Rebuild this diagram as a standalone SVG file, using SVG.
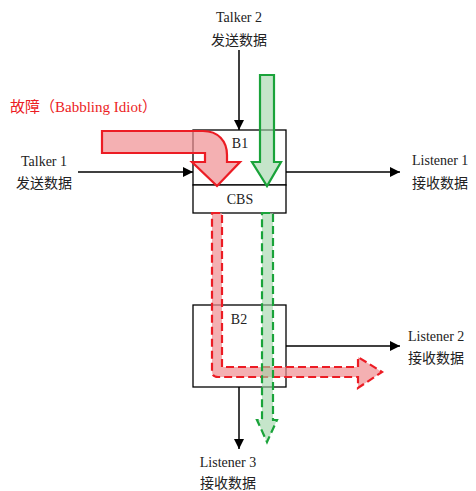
<svg xmlns="http://www.w3.org/2000/svg" width="476" height="491" viewBox="0 0 476 491">
<defs>
<marker id="ah" markerWidth="10" markerHeight="10" refX="10" refY="5" orient="auto" markerUnits="userSpaceOnUse"><path d="M0,0 L10,5 L0,10 Z" fill="#000"/></marker>
<style>
.lat{font-family:"Liberation Serif","Noto Sans CJK SC",serif;font-size:14px;fill:#222}
.cjk{font-family:"Noto Sans CJK SC","Liberation Serif",sans-serif;font-size:14px;fill:#222}
.box{fill:#fff;stroke:#000;stroke-width:1.3}
.ln{stroke:#000;stroke-width:1.5;fill:none;marker-end:url(#ah)}
.red{fill:#f08f92;fill-opacity:0.7;stroke:#ec1c24;stroke-width:2.2}
.grn{fill:#9fd4a6;fill-opacity:0.6;stroke:#1aa33a;stroke-width:2.2}
.dash{stroke-dasharray:8,4}
.fault{font-size:15px;fill:#ec1c24}
</style>
</defs>
<g id="b1"><rect class="box" x="193" y="130" width="93" height="55"/><text class="lat" x="240" y="148" text-anchor="middle">B1</text></g>
<g id="cbs"><rect class="box" x="193" y="185" width="93" height="28"/><text class="lat" x="240" y="204" text-anchor="middle">CBS</text></g>
<g id="b2"><rect class="box" x="193" y="305" width="93" height="82"/><text class="lat" x="239" y="324" text-anchor="middle">B2</text></g>
<g id="connectors">
<path class="ln" d="M239,50 V130"/>
<path class="ln" d="M78,172 H193"/>
<path class="ln" d="M286,172 H400"/>
<path class="ln" d="M286,346 H400"/>
<path class="ln" d="M239,387 V449"/>
</g>
<g id="fault-arrow"><path class="red" d="M102,131 L203,131 C218,131 227,141 227,155 L227,162 L240,162 L217,186 L192,162 L205,162 L205,153 L102,153 Z"/></g>
<g id="talker2-arrow"><path class="grn" d="M260,75 L274,75 L274,162 L281,162 L267,186 L252,162 L260,162 Z"/></g>
<g id="fault-path"><path class="red dash" d="M212,213 L222,213 L222,367 L358,367 L358,357 L382,372 L358,388 L358,377 L218,377 Q212,377 212,371 Z"/></g>
<g id="talker2-path"><path class="grn dash" d="M262,213 L273,213 L273,420 L277,420 L267,442 L257,420 L262,420 Z"/></g>
<g id="talker1"><text class="lat" x="44" y="166" text-anchor="middle">Talker 1</text><text class="cjk" x="44" y="188" text-anchor="middle">发送数据</text></g>
<g id="talker2"><text class="lat" x="239" y="22" text-anchor="middle">Talker 2</text><text class="cjk" x="239" y="45" text-anchor="middle">发送数据</text></g>
<g id="fault-label"><text class="cjk fault" x="10" y="112">故障（<tspan font-family="Liberation Serif, serif">Babbling Idiot</tspan>）</text></g>
<g id="listener1"><text class="lat" x="412" y="165">Listener 1</text><text class="cjk" x="412" y="188">接收数据</text></g>
<g id="listener2"><text class="lat" x="408" y="341">Listener 2</text><text class="cjk" x="408" y="363">接收数据</text></g>
<g id="listener3"><text class="lat" x="228" y="467" text-anchor="middle">Listener 3</text><text class="cjk" x="228" y="488" text-anchor="middle">接收数据</text></g>
</svg>
